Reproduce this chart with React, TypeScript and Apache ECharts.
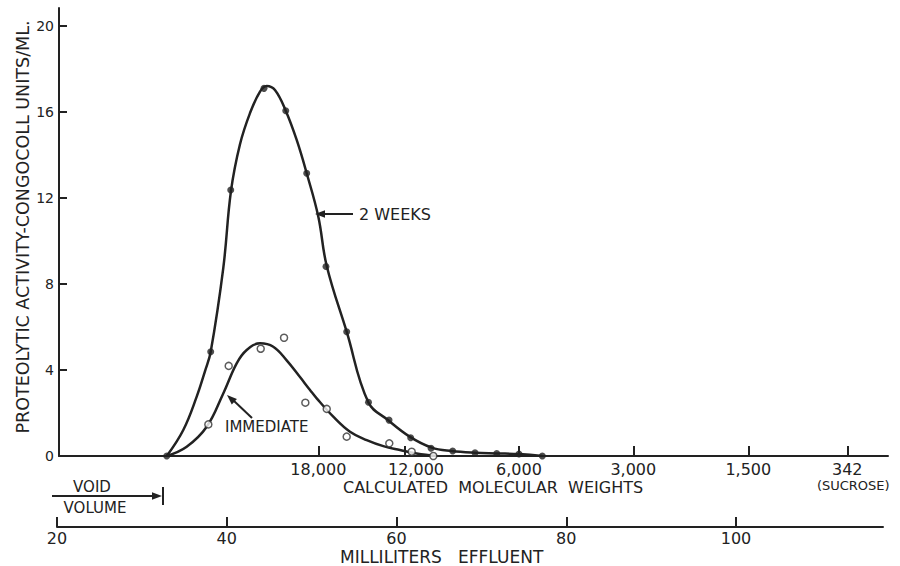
import React, { useEffect, useRef } from "react";
import * as echarts from "echarts";

// Hand-drawn fitted curve, 2 weeks (ml effluent vs. activity)
const weeksCurveMl = [32.93, 34.88, 36.46, 37.44, 38.11, 39.59, 40.5, 41.56, 42.74, 43.92, 44.71, 45.68, 46.95, 48.24, 49.42, 50.79, 51.78, 54.13, 56.68, 59.03, 61.59, 64.15, 66.5, 69.25, 71.81, 74.43, 77.18];
const weeksCurveAct = [0, 1.21, 2.76, 3.95, 4.85, 8.74, 12.33, 14.5, 15.95, 16.95, 17.21, 17.02, 16.06, 14.7, 13.15, 11.13, 8.84, 5.78, 2.5, 1.66, 0.89, 0.39, 0.23, 0.15, 0.12, 0.09, 0];

// Measured fractions, 2 weeks
const weeksPointMl = [32.93, 38.11, 40.47, 44.39, 46.95, 49.42, 51.69, 54.13, 56.7, 59.12, 61.67, 64.07, 66.62, 69.25, 71.81, 74.43, 77.18];
const weeksPointAct = [0, 4.85, 12.37, 17.1, 16.06, 13.15, 8.81, 5.78, 2.5, 1.67, 0.85, 0.36, 0.23, 0.15, 0.12, 0.09, 0];

// Hand-drawn fitted curve, immediate
const immCurveMl = [32.93, 35.28, 37.64, 39.59, 41.17, 42.35, 43.92, 45.48, 47.06, 48.63, 49.81, 50.6, 52.55, 54.52, 56.49, 58.45, 60.41, 62.38, 64.77];
const immCurveAct = [0, 0.43, 1.36, 2.91, 4.31, 4.93, 5.24, 5.08, 4.45, 3.67, 3.07, 2.68, 1.83, 1.13, 0.74, 0.46, 0.28, 0.12, 0];

// Measured fractions, immediate
const immPointMl = [37.83, 40.23, 44.0, 46.75, 49.26, 51.78, 54.13, 59.15, 61.79, 64.34];
const immPointAct = [1.47, 4.19, 4.99, 5.5, 2.48, 2.19, 0.9, 0.59, 0.2, 0];

// Axis ticks
const activityTicks = [0, 4, 8, 12, 16, 20];
const effluentTicks = [20, 40, 60, 80, 100];
const mwTickMl = [50.79, 61.0, 74.43, 87.9, 101.45, 113.11];
const mwTickLabels = ["18,000", "12,000", "6,000", "3,000", "1,500", "342"];
const mwTickNote = ["", "", "", "", "", "(SUCROSE)"];

const INK = "#222";
const FONT = "DejaVu Sans";
const PX_PER_ML = 8.4875;
const ML20_X = 57;

const zip = (xs: number[], ys: number[]) => xs.map((x, i) => [x, ys[i]]);

function arrowHead(tipX: number, tipY: number, dx: number, dy: number, len = 10, half = 3.8) {
  const m = Math.hypot(dx, dy);
  const ux = dx / m;
  const uy = dy / m;
  const bx = tipX - ux * len;
  const by = tipY - uy * len;
  return {
    type: "polygon",
    shape: { points: [[tipX, tipY], [bx - uy * half, by + ux * half], [bx + uy * half, by - ux * half]] },
    style: { fill: INK },
    z: 10,
  };
}

function seg(x1: number, y1: number, x2: number, y2: number, w = 2) {
  return { type: "line", shape: { x1, y1, x2, y2 }, style: { stroke: INK, lineWidth: w }, z: 10 };
}

function label(text: string, x: number, y: number, size: number, align = "left", rotation = 0) {
  return {
    type: "text",
    x,
    y,
    rotation,
    z: 10,
    style: {
      text,
      fill: INK,
      fontSize: size,
      fontFamily: FONT,
      align,
      verticalAlign: "middle",
      textAlign: align,
      textVerticalAlign: "middle",
    },
  };
}

export default function App() {
  const ref = useRef<HTMLDivElement>(null);

  useEffect(() => {
    if (!ref.current) return;
    const chart = echarts.init(ref.current, null, { renderer: "svg" });

    const plotLeft = 59;
    const plotRight = 888;
    const xMin = 20 + (plotLeft - ML20_X) / PX_PER_ML;
    const xMax = 20 + (plotRight - ML20_X) / PX_PER_ML;
    const mlAxisRight = 883;
    const mlMax = 20 + (mlAxisRight - ML20_X) / PX_PER_ML;

    const axisLine = { show: true, lineStyle: { color: INK, width: 2 } };

    const option: any = {
      animation: false,
      backgroundColor: "#fff",
      grid: [
        { left: plotLeft, top: 8, width: plotRight - plotLeft, height: 448 },
        { left: ML20_X, top: 526, width: mlAxisRight - ML20_X, height: 1 },
      ],
      xAxis: [
        {
          type: "value",
          gridIndex: 0,
          min: xMin,
          max: xMax,
          axisLine,
          splitLine: { show: false },
          axisTick: { show: true, inside: true, length: 10, customValues: mwTickMl, lineStyle: { color: INK, width: 2 } },
          axisLabel: {
            customValues: mwTickMl,
            margin: 5,
            color: INK,
            fontSize: 16,
            fontFamily: FONT,
            formatter: (v: number) => {
              let best = 0;
              mwTickMl.forEach((m, i) => {
                if (Math.abs(m - v) < Math.abs(mwTickMl[best] - v)) best = i;
              });
              const t = mwTickLabels[best];
              if (best === 1) return `{off|${t}}`;
              if (mwTickNote[best]) return `{top|${t}}\n{note|${mwTickNote[best]}}`;
              return t;
            },
            rich: {
              off: { padding: [0, 0, 0, 22], fontSize: 16, fontFamily: FONT, color: INK },
              top: { fontSize: 16, fontFamily: FONT, color: INK, lineHeight: 17 },
              note: { fontSize: 13, fontFamily: FONT, color: INK, lineHeight: 14, padding: [0, 0, 0, 12] },
            },
          },
        },
        {
          type: "value",
          gridIndex: 1,
          min: 20,
          max: mlMax,
          axisLine,
          splitLine: { show: false },
          axisTick: { show: true, inside: true, length: 10, customValues: effluentTicks, lineStyle: { color: INK, width: 2 } },
          axisLabel: { customValues: effluentTicks, margin: 3, color: INK, fontSize: 16, fontFamily: FONT },
        },
      ],
      yAxis: [
        {
          type: "value",
          gridIndex: 0,
          min: 0,
          max: 448 / 21.5,
          axisLine,
          splitLine: { show: false },
          axisTick: { show: true, inside: true, length: 8, customValues: activityTicks, lineStyle: { color: INK, width: 2 } },
          axisLabel: { customValues: activityTicks, margin: 5, color: INK, fontSize: 14, fontFamily: FONT },
        },
        { type: "value", gridIndex: 1, show: false, min: 0, max: 1 },
      ],
      series: [
        {
          name: "2 WEEKS curve",
          type: "line",
          data: zip(weeksCurveMl, weeksCurveAct),
          smooth: 0.4,
          showSymbol: false,
          lineStyle: { color: INK, width: 2.5 },
          z: 2,
        },
        {
          name: "IMMEDIATE curve",
          type: "line",
          data: zip(immCurveMl, immCurveAct),
          smooth: 0.4,
          showSymbol: false,
          lineStyle: { color: INK, width: 2.5 },
          z: 2,
        },
        {
          name: "2 WEEKS",
          type: "scatter",
          data: zip(weeksPointMl, weeksPointAct),
          symbol: "circle",
          symbolSize: 7,
          itemStyle: { color: INK },
          z: 4,
        },
        {
          name: "IMMEDIATE",
          type: "scatter",
          data: zip(immPointMl, immPointAct),
          symbol: "circle",
          symbolSize: 7,
          itemStyle: { color: "#fff", borderColor: "#333", borderWidth: 1.5 },
          z: 4,
        },
      ],
      graphic: [
        label("PROTEOLYTIC ACTIVITY-CONGOCOLL UNITS/ML.", 23, 227, 17.5, "center", Math.PI / 2),
        // 2 WEEKS pointer
        seg(353, 214, 322, 214),
        arrowHead(315, 214, -1, 0),
        label("2 WEEKS", 359, 214, 16),
        // IMMEDIATE pointer
        seg(252, 418, 233, 400),
        arrowHead(227, 395, -25, -23),
        label("IMMEDIATE", 225, 427, 15),
        // void volume marker
        seg(52, 496, 154, 496),
        arrowHead(162, 496, 1, 0),
        seg(163, 487, 163, 505),
        label("VOID", 92, 487, 15, "center"),
        label("VOLUME", 95, 508, 15, "center"),
        // axis titles
        label("CALCULATED  MOLECULAR  WEIGHTS", 343, 487, 16),
        label("MILLILITERS   EFFLUENT", 340, 557, 17),
      ],
    };

    chart.setOption(option);
    return () => chart.dispose();
  }, []);

  return (
    <div
      ref={ref}
      style={{ position: "absolute", left: 0, top: 0, width: 900, height: 566, background: "#fff" }}
    />
  );
}
